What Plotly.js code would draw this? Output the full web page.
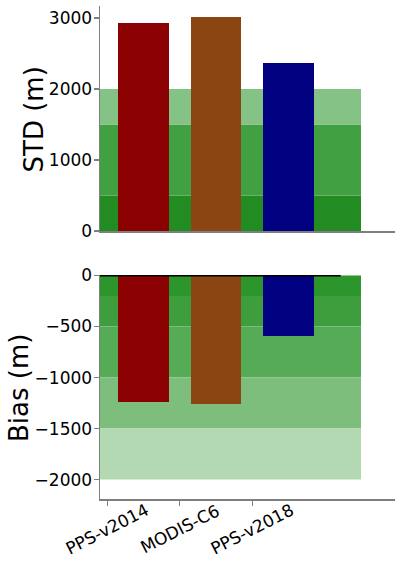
<!DOCTYPE html>
<html>
<head>
<meta charset="utf-8">
<script src="https://cdn.plot.ly/plotly-3.0.1.min.js"></script>
<style>html,body{margin:0;padding:0;background:#fff;}#chart{width:396px;height:566px;}</style>
</head>
<body>
<div id="chart"></div>
<script>
// ---- data ----
const categories = ['PPS-v2014', 'MODIS-C6', 'PPS-v2018'];
const stdValues = [2930, 3015, 2365];
const biasValues = [-1235, -1255, -588];
const barColors = ['#8B0000', '#8B4513', '#000080'];
const stdBandEdges = [0, 500, 1500, 2000];
const stdBandColors = ['#228B22', '#41A042', '#85C285'];
const biasBandEdges = [0, -200, -500, -1000, -1500, -2000];
const biasBandColors = ['#2C962C', '#3E9E3E', '#56AB56', '#7DBE7D', '#B3D9B3'];
const stdTicks = [0, 1000, 2000, 3000];
const biasTicks = [0, -500, -1000, -1500, -2000];
const labelPositions = [-0.5, 0.5, 1.5];

const xs = categories.map((c, i) => i);
const font = 'DejaVu Sans, sans-serif';
const spine = 'rgba(0,0,0,0.5)';
const xRange = [-0.6, 3.469];

const traces = [
  {type: 'bar', x: xs, y: stdValues, width: 0.7, marker: {color: barColors, line: {width: 0}},
   xaxis: 'x', yaxis: 'y', hoverinfo: 'skip', showlegend: false},
  {type: 'bar', x: xs, y: biasValues, width: 0.7, marker: {color: barColors, line: {width: 0}},
   xaxis: 'x2', yaxis: 'y2', hoverinfo: 'skip', showlegend: false}
];

const shapes = [];
for (let i = 0; i < stdBandColors.length; i++) {
  shapes.push({type: 'rect', xref: 'x', yref: 'y', x0: -0.6, x1: 3.0,
    y0: stdBandEdges[i], y1: stdBandEdges[i + 1], fillcolor: stdBandColors[i],
    line: {width: 0}, layer: 'below'});
}
for (let i = 0; i < biasBandColors.length; i++) {
  shapes.push({type: 'rect', xref: 'x2', yref: 'y2', x0: -0.6, x1: 3.0,
    y0: biasBandEdges[i], y1: biasBandEdges[i + 1], fillcolor: biasBandColors[i],
    line: {width: 0}, layer: 'below'});
}
shapes.push({type: 'line', xref: 'x2', yref: 'y2', x0: -0.6, x1: 2.72, y0: 0, y1: 0,
  line: {color: '#000', width: 1.8}, layer: 'above'});

const annotations = categories.map((c, i) => ({
  text: c, xref: 'x2', yref: 'paper', x: labelPositions[i], y: 0, yshift: -30,
  xanchor: 'center', yanchor: 'middle', textangle: -27, showarrow: false,
  font: {family: font, size: 17, color: '#000'}
}));
annotations.push({text: 'STD (m)', xref: 'paper', yref: 'paper', x: -0.2237, y: 0.7698,
  xanchor: 'center', yanchor: 'middle', textangle: -90, showarrow: false,
  font: {family: font, size: 26, color: '#000'}});
annotations.push({text: 'Bias (m)', xref: 'paper', yref: 'paper', x: -0.2746, y: 0.2252,
  xanchor: 'center', yanchor: 'middle', textangle: -90, showarrow: false,
  font: {family: font, size: 26, color: '#000'}});

const yCommon = {showgrid: false, zeroline: false, showline: true, linecolor: spine, linewidth: 1.5,
  ticks: 'outside', ticklen: 5, tickwidth: 1.2, tickcolor: spine, tickmode: 'array',
  ticklabelstandoff: -2,
  tickfont: {family: font, size: 17, color: '#000'}, fixedrange: true};

const layout = {
  width: 396, height: 566,
  margin: {l: 100, r: 1, t: 6, b: 67},
  paper_bgcolor: '#fff', plot_bgcolor: 'rgba(0,0,0,0)',
  font: {family: font},
  showlegend: false,
  bargap: 0,
  xaxis: {domain: [0, 1], anchor: 'y', range: xRange, showgrid: false, zeroline: false,
    showline: true, linecolor: spine, linewidth: 1.5, ticks: '', showticklabels: false},
  xaxis2: {domain: [0, 1], anchor: 'y2', range: xRange, showgrid: false, zeroline: false,
    showline: true, linecolor: spine, linewidth: 1.5, ticks: 'outside', ticklen: 5, tickwidth: 1.2,
    tickcolor: spine, tickmode: 'array', tickvals: labelPositions, showticklabels: false},
  yaxis: Object.assign({}, yCommon, {domain: [0.5436, 1], anchor: 'x', range: [0, 3170],
    tickvals: stdTicks}),
  yaxis2: Object.assign({}, yCommon, {domain: [0, 0.4544], anchor: 'x2', range: [-2190, 5],
    tickvals: biasTicks}),
  shapes: shapes,
  annotations: annotations
};

Plotly.newPlot('chart', traces, layout, {displayModeBar: false, staticPlot: true});
</script>
</body>
</html>
